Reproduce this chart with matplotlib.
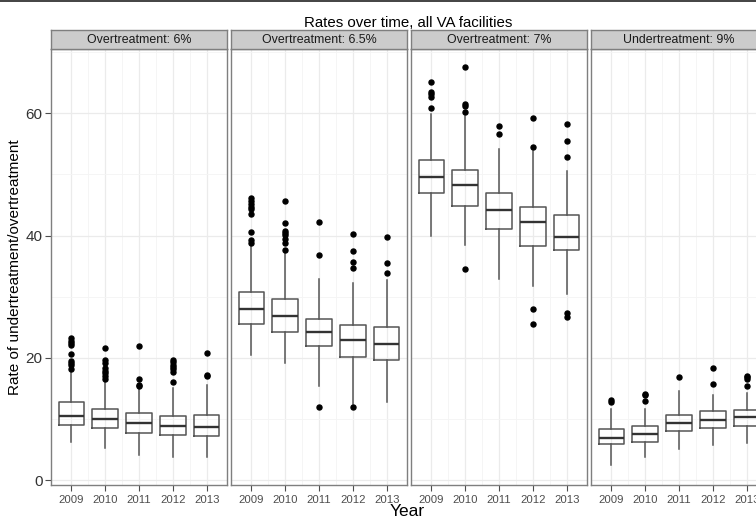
import matplotlib
matplotlib.use("Agg")
import matplotlib.pyplot as plt
from matplotlib.lines import Line2D

plt.rcParams['font.family'] = ['Liberation Sans', 'DejaVu Sans']

years = ['2009', '2010', '2011', '2012', '2013']
panel_titles = ['Overtreatment: 6%', 'Overtreatment: 6.5%',
                'Overtreatment: 7%', 'Undertreatment: 9%']

# box statistics per facet (one value per year)
over6_q1 = [9.0, 8.5, 7.7, 7.4, 7.2]
over6_med = [10.5, 10.0, 9.3, 8.8, 8.7]
over6_q3 = [12.7, 11.7, 10.9, 10.5, 10.7]
over6_lo = [6.3, 5.3, 4.1, 3.8, 3.8]
over6_hi = [17.9, 16.2, 15.0, 15.0, 15.5]
over6_out = [[23.2, 22.8, 22.5, 22.1, 20.6, 19.5, 19.2, 18.8, 18.2],
             [21.6, 19.6, 19.2, 18.4, 17.9, 17.5, 17.0, 16.6],
             [21.9, 16.5, 15.6, 15.4],
             [19.7, 19.3, 18.9, 18.5, 18.1, 17.6, 16.1],
             [20.8, 17.2, 17.0]]

over65_q1 = [25.6, 24.2, 21.9, 20.1, 19.6]
over65_med = [27.9, 26.9, 24.2, 22.9, 22.3]
over65_q3 = [30.7, 29.6, 26.3, 25.4, 25.1]
over65_lo = [20.5, 19.2, 15.4, 12.4, 12.8]
over65_hi = [38.4, 37.2, 32.9, 32.2, 32.7]
over65_out = [[46.1, 45.6, 45.2, 44.7, 44.3, 43.5, 40.6, 39.2, 38.8],
              [45.7, 42.0, 40.8, 40.4, 40.1, 39.5, 38.8, 37.7],
              [42.2, 36.8, 11.9],
              [40.3, 37.4, 35.6, 34.7, 12.0],
              [39.7, 35.5, 33.8]]

over7_q1 = [46.9, 44.9, 41.0, 38.3, 37.6]
over7_med = [49.5, 48.2, 44.2, 42.2, 39.8]
over7_q3 = [52.4, 50.7, 46.9, 44.6, 43.4]
over7_lo = [39.9, 38.5, 32.9, 31.7, 30.4]
over7_hi = [59.8, 59.5, 54.1, 53.9, 50.6]
over7_out = [[65.1, 63.5, 63.1, 62.7, 60.8],
             [67.5, 61.5, 61.2, 60.2, 34.5],
             [57.9, 56.6],
             [59.2, 54.5, 27.9, 25.6],
             [58.3, 55.4, 52.8, 27.4, 26.6]]

under9_q1 = [5.9, 6.2, 8.0, 8.5, 8.9]
under9_med = [6.9, 7.6, 9.3, 9.9, 10.3]
under9_q3 = [8.3, 8.8, 10.7, 11.3, 11.5]
under9_lo = [2.5, 3.8, 5.1, 5.7, 6.0]
under9_hi = [11.6, 11.6, 14.6, 13.9, 14.2]
under9_out = [[13.1, 12.8],
              [14.1, 13.9, 12.9],
              [16.8],
              [18.3, 15.7],
              [17.1, 16.8, 16.6, 15.4]]

facets = [
    (over6_q1, over6_med, over6_q3, over6_lo, over6_hi, over6_out),
    (over65_q1, over65_med, over65_q3, over65_lo, over65_hi, over65_out),
    (over7_q1, over7_med, over7_q3, over7_lo, over7_hi, over7_out),
    (under9_q1, under9_med, under9_q3, under9_lo, under9_hi, under9_out),
]

W, H = 756, 516
fig = plt.figure(figsize=(W / 100, H / 100), dpi=100)

# panel geometry in pixels (the last panel runs past the right edge)
panel_left = [51, 231, 411, 591]
panel_w = 176
panel_top, panel_bottom = 49, 485
strip_h = 19

grid_major = '#EBEBEB'
grid_minor = '#F4F4F4'
border = '#7F7F7F'

for i, (title, (q1, med, q3, lo, hi, out)) in enumerate(zip(panel_titles, facets)):
    x0 = panel_left[i]
    ax = fig.add_axes([x0 / W, (H - panel_bottom) / H, panel_w / W,
                       (panel_bottom - panel_top) / H])
    stats = []
    for k in range(len(years)):
        stats.append(dict(med=med[k], q1=q1[k], q3=q3[k],
                          whislo=lo[k], whishi=hi[k], fliers=out[k]))
    ax.bxp(stats, positions=range(1, 6), widths=0.75, showcaps=False,
           boxprops=dict(color='#555555', linewidth=1.1),
           whiskerprops=dict(color='#555555', linewidth=1.1),
           medianprops=dict(color='#333333', linewidth=1.7),
           flierprops=dict(marker='o', markerfacecolor='black',
                           markeredgecolor='black', markersize=3.6))

    ax.set_xlim(0.4, 5.6)
    ax.set_ylim(-0.8, 70.5)
    ax.set_xticks(range(1, 6))
    ax.set_xticklabels(years)
    ax.set_xticks([1.5, 2.5, 3.5, 4.5], minor=True)
    ax.set_yticks([0, 20, 40, 60])
    ax.set_yticks([10, 30, 50, 70], minor=True)
    ax.grid(True, which='major', color=grid_major, linewidth=0.9, zorder=0)
    ax.grid(True, which='minor', color=grid_minor, linewidth=0.6, zorder=0)
    ax.set_axisbelow(True)
    for s in ax.spines.values():
        s.set_color(border)
        s.set_linewidth(1.0)
    ax.tick_params(axis='x', which='major', length=4, color='#4D4D4D',
                   labelsize=8.2, labelcolor='#4D4D4D', pad=3)
    ax.tick_params(which='minor', length=0)
    if i == 0:
        ax.tick_params(axis='y', which='major', length=4, color='#4D4D4D',
                       labelsize=11, labelcolor='#333333', pad=2)
    else:
        ax.tick_params(axis='y', which='major', length=0, labelleft=False)

    # facet strip
    sax = fig.add_axes([x0 / W, (H - panel_top) / H, panel_w / W, strip_h / H])
    sax.set_facecolor('#CCCCCC')
    sax.set_xticks([])
    sax.set_yticks([])
    for s in sax.spines.values():
        s.set_color(border)
        s.set_linewidth(1.0)
    sax.text(0.5, 0.45, title, ha='center', va='center', fontsize=8.9,
             color='#1A1A1A', transform=sax.transAxes)

fig.text(408 / W, 1 - 23 / H, 'Rates over time, all VA facilities',
         ha='center', va='center', fontsize=10.8)
fig.text(15 / W, 1 - 267 / H, 'Rate of undertreatment/overtreatment',
         ha='center', va='center', rotation=90, fontsize=11)
fig.text(407 / W, 1 - 512 / H, 'Year', ha='center', va='center', fontsize=12.5)

# thin dark rule along the top edge
fig.add_artist(Line2D([0, 1], [1 - 0.6 / H, 1 - 0.6 / H], color='#222222',
                      linewidth=1.2, transform=fig.transFigure))

fig.savefig('out.png', dpi=100)
